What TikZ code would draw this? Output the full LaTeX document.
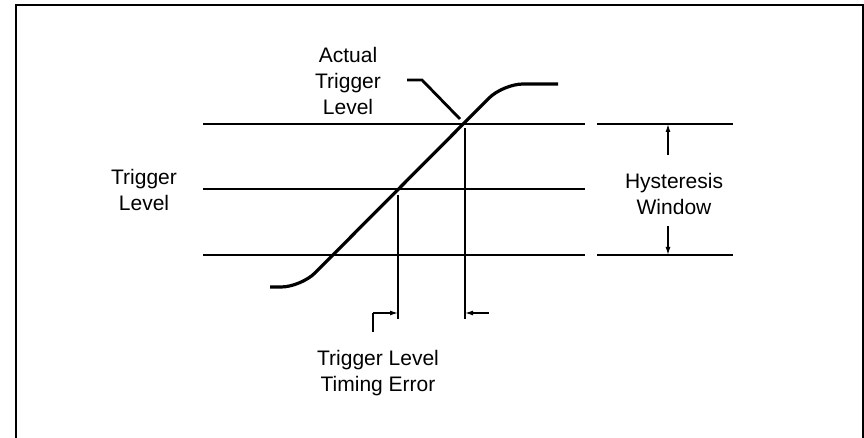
\documentclass[tikz,border=0pt]{standalone}
\usepackage{fontspec}
\setmainfont{Liberation Sans}
\usetikzlibrary{arrows.meta,positioning}

\begin{document}
\begin{tikzpicture}[x=1pt,y=-1pt,>={Latex[length=8pt,width=5pt]},
  lbl/.style={align=center,inner sep=0pt,font=\fontsize{21}{26}\selectfont},
  lvl/.style={line width=1.8pt},
  dim/.style={line width=1.8pt},
  sig/.style={line width=3.2pt,rounded corners=20pt},
  arr/.style={->,line width=1.3pt}]
\useasboundingbox (0,0) rectangle (864,438);
\draw[line width=1.4pt] (16,445) -- (16,5) -- (863,5) -- (863,445);
% trigger levels
\coordinate (hiA) at (203,124); \coordinate (hiB) at (585,124);
\coordinate (hiC) at (597,124); \coordinate (hiD) at (733,124);
\coordinate (midA) at (203,189); \coordinate (midB) at (585,189);
\coordinate (loA) at (203,255); \coordinate (loB) at (585,255);
\coordinate (loC) at (597,255); \coordinate (loD) at (733,255);
\draw[lvl] (hiA) -- (hiB) (hiC) -- (hiD);
\draw[lvl] (midA) -- (midB);
\draw[lvl] (loA) -- (loB) (loC) -- (loD);
% signal
\coordinate (sigA) at (270,287); \coordinate (sigB) at (301,287);
\coordinate (sigC) at (503,84); \coordinate (sigD) at (558,84);
\draw[sig] (sigA) -- (sigB) -- (sigC) -- (sigD);
% labels
\node[lbl] (actual) at (348,81) {Actual\\Trigger\\Level};
\node[lbl] (trig) at (144,190) {Trigger\\Level};
\node[lbl] (hyst) at (674,194) {Hysteresis\\Window};
\node[lbl] (terr) at (378,373) {Trigger Level\\Timing Error};
% actual level pointer
\coordinate (lead) at (407,80); \coordinate (hit) at (460,119);
\draw[line width=2.8pt] (lead) -- ++(15,0) -- (hit);
% timing error
\coordinate (tA) at (398,195); \coordinate (tB) at (398,319);
\coordinate (tC) at (465,128); \coordinate (tD) at (465,319);
\draw[dim] (tA) -- (tB);
\draw[dim] (tC) -- (tD);
\coordinate (eL) at (373,332); \coordinate (eR) at (489,313);
\draw[line width=2.4pt] (eL) -- ++(0,-19) coordinate (eT);
\draw[arr] (eT) -- (tA |- eT);
\draw[arr] (eR) -- (tC |- eR);
% hysteresis window
\coordinate (hU) at (668,155); \coordinate (hD) at (668,226);
\draw[arr] (hU) -- (hU |- hiD);
\draw[arr] (hD) -- (hD |- loD);
\end{tikzpicture}
\end{document}
